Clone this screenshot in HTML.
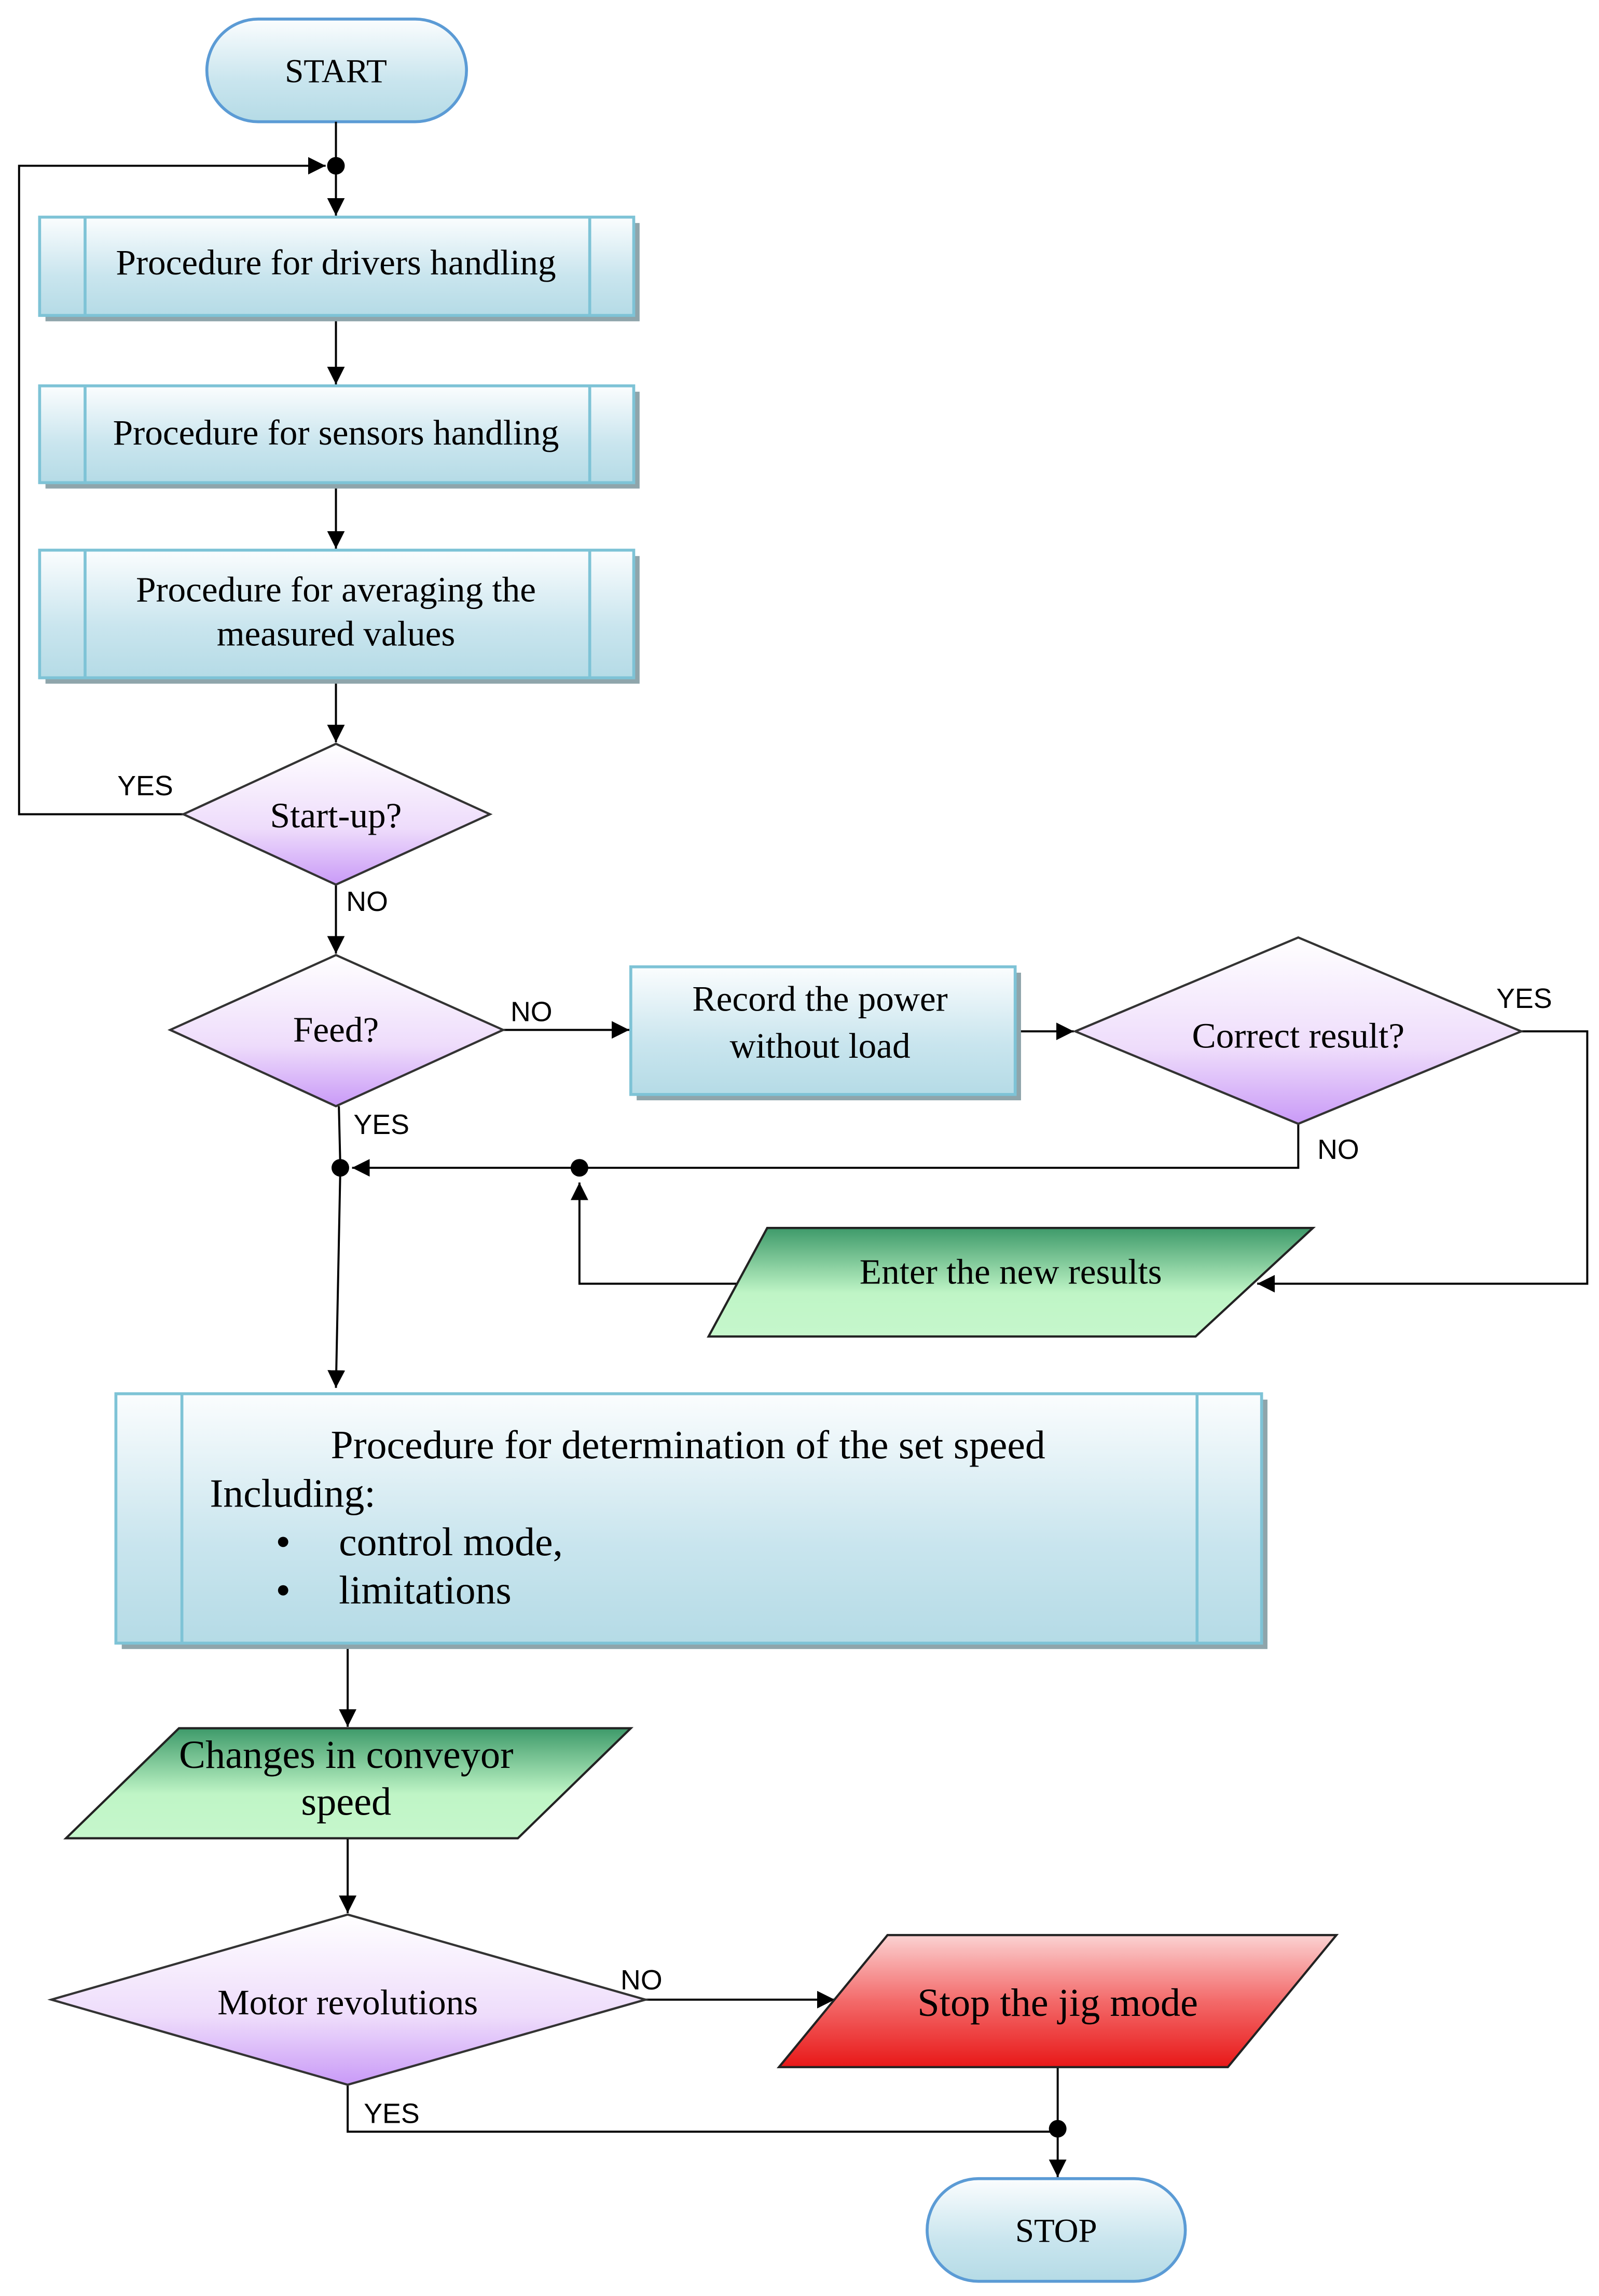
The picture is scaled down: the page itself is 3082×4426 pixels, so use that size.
<!DOCTYPE html>
<html><head><meta charset="utf-8"><style>html,body{margin:0;padding:0;background:#fff}svg{display:block}</style></head>
<body>
<svg width="3082" height="4426" viewBox="0 0 1090 1565" preserveAspectRatio="none" xmlns="http://www.w3.org/2000/svg">
<defs>
<linearGradient id="bl" x1="0" y1="0" x2="0" y2="1"><stop offset="0" stop-color="#fbfdfe"/><stop offset="0.6" stop-color="#c9e5ee"/><stop offset="1" stop-color="#b5dbe6"/></linearGradient>
<linearGradient id="pu" x1="0" y1="0" x2="0" y2="1"><stop offset="0" stop-color="#ffffff"/><stop offset="0.6" stop-color="#eedcfb"/><stop offset="1" stop-color="#c99af7"/></linearGradient>
<linearGradient id="gr" x1="0" y1="0" x2="0" y2="1"><stop offset="0" stop-color="#3e9a6a"/><stop offset="0.6" stop-color="#bff5c6"/><stop offset="1" stop-color="#c6f7cc"/></linearGradient>
<linearGradient id="rd" x1="0" y1="0" x2="0" y2="1"><stop offset="0" stop-color="#fbd2d2"/><stop offset="0.5" stop-color="#f36a6a"/><stop offset="1" stop-color="#e81818"/></linearGradient>
<marker id="a" viewBox="0 0 10 10" refX="10" refY="5" markerWidth="12" markerHeight="12" markerUnits="userSpaceOnUse" orient="auto"><path d="M0,0L10,5L0,10z" fill="#000"/></marker>
</defs>
<g font-family="Liberation Serif, serif" fill="#000">
<rect x="141" y="13" width="177" height="70" rx="35" fill="url(#bl)" stroke="#5b9bd5" stroke-width="2"/>
<text x="229" y="56" font-size="23" text-anchor="middle">START</text>
<g stroke="#000" stroke-width="1.4" fill="none">
<line x1="229" y1="83" x2="229" y2="147" marker-end="url(#a)"/>
<polyline points="125,555 13,555 13,113 222,113" marker-end="url(#a)"/>
<line x1="229" y1="216" x2="229" y2="262" marker-end="url(#a)"/>
<line x1="229" y1="330" x2="229" y2="374" marker-end="url(#a)"/>
<line x1="229" y1="463" x2="229" y2="506" marker-end="url(#a)"/>
<line x1="229" y1="603" x2="229" y2="650" marker-end="url(#a)"/>
<line x1="343" y1="702" x2="429" y2="702" marker-end="url(#a)"/>
<line x1="692" y1="703" x2="732" y2="703" marker-end="url(#a)"/>
<polyline points="885,766 885,796 240,796" marker-end="url(#a)"/>
<polyline points="1037,703 1082,703 1082,875 857,875" marker-end="url(#a)"/>
<polyline points="502,875 395,875 395,806" marker-end="url(#a)"/>
<polyline points="231,754 232,796 229,946" marker-end="url(#a)"/>
<line x1="237" y1="1120" x2="237" y2="1177" marker-end="url(#a)"/>
<line x1="237" y1="1253" x2="237" y2="1304" marker-end="url(#a)"/>
<line x1="440" y1="1363" x2="569" y2="1363" marker-end="url(#a)"/>
<polyline points="237,1421 237,1453 720,1453"/>
<line x1="721" y1="1409" x2="721" y2="1484" marker-end="url(#a)"/>
</g>
<circle cx="229" cy="113" r="6"/>
<circle cx="232" cy="796" r="6"/>
<circle cx="395" cy="796" r="6"/>
<circle cx="721" cy="1451" r="6"/>
<g stroke="#7ec3d6" stroke-width="2">
<rect x="31" y="152" width="405" height="67" fill="#8fa5ab" stroke="none"/>
<rect x="27" y="148" width="405" height="67" fill="url(#bl)"/>
<line x1="58" y1="148" x2="58" y2="215"/><line x1="402" y1="148" x2="402" y2="215"/>
<rect x="31" y="267" width="405" height="66" fill="#8fa5ab" stroke="none"/>
<rect x="27" y="263" width="405" height="66" fill="url(#bl)"/>
<line x1="58" y1="263" x2="58" y2="329"/><line x1="402" y1="263" x2="402" y2="329"/>
<rect x="31" y="379" width="405" height="87" fill="#8fa5ab" stroke="none"/>
<rect x="27" y="375" width="405" height="87" fill="url(#bl)"/>
<line x1="58" y1="375" x2="58" y2="462"/><line x1="402" y1="375" x2="402" y2="462"/>
<rect x="434" y="663" width="262" height="87" fill="#8fa5ab" stroke="none"/>
<rect x="430" y="659" width="262" height="87" fill="url(#bl)"/>
<rect x="83" y="954" width="781" height="170" fill="#8fa5ab" stroke="none"/>
<rect x="79" y="950" width="781" height="170" fill="url(#bl)"/>
<line x1="124" y1="950" x2="124" y2="1120"/><line x1="816" y1="950" x2="816" y2="1120"/>
</g>
<text x="229" y="187" font-size="24.5" text-anchor="middle">Procedure for drivers handling</text>
<text x="229" y="303" font-size="24.5" text-anchor="middle">Procedure for sensors handling</text>
<text x="229" y="410" font-size="24.5" text-anchor="middle">Procedure for averaging the</text>
<text x="229" y="440" font-size="24.5" text-anchor="middle">measured values</text>
<text x="559" y="689" font-size="24.5" text-anchor="middle">Record the power</text>
<text x="559" y="721" font-size="24.5" text-anchor="middle">without load</text>
<text x="469" y="994" font-size="27.5" text-anchor="middle">Procedure for determination of the set speed</text>
<text x="143" y="1027" font-size="27.5">Including:</text>
<circle cx="193" cy="1051" r="3.5"/><circle cx="193" cy="1084" r="3.5"/>
<text x="231" y="1060" font-size="27.5">control mode,</text>
<text x="231" y="1093" font-size="27.5">limitations</text>
<g stroke="#333" stroke-width="1.5" fill="url(#pu)">
<polygon points="229,507 334,555 229,603 125,555"/>
<polygon points="229,651 343,702 229,754 116,702"/>
<polygon points="885,639 1037,703 885,766 733,703"/>
<polygon points="237,1305 440,1363 237,1421 35,1363"/>
</g>
<text x="229" y="564" font-size="24.5" text-anchor="middle">Start-up?</text>
<text x="229" y="710" font-size="24.5" text-anchor="middle">Feed?</text>
<text x="885" y="714" font-size="24.5" text-anchor="middle">Correct result?</text>
<text x="237" y="1373" font-size="24.5" text-anchor="middle">Motor revolutions</text>
<polygon points="523,837 895,837 815,911 483,911" fill="url(#gr)" stroke="#222" stroke-width="1.5"/>
<text x="689" y="875" font-size="24.5" text-anchor="middle">Enter the new results</text>
<polygon points="122,1178 430,1178 353,1253 45,1253" fill="url(#gr)" stroke="#222" stroke-width="1.5"/>
<text x="236" y="1205" font-size="27" text-anchor="middle">Changes in conveyor</text>
<text x="236" y="1237" font-size="27" text-anchor="middle">speed</text>
<polygon points="605,1319 911,1319 837,1409 531,1409" fill="url(#rd)" stroke="#222" stroke-width="1.5"/>
<text x="721" y="1374" font-size="27" text-anchor="middle">Stop the jig mode</text>
<rect x="632" y="1485" width="176" height="70" rx="35" fill="url(#bl)" stroke="#5b9bd5" stroke-width="2"/>
<text x="720" y="1528" font-size="23" text-anchor="middle">STOP</text>
</g>
<g font-family="Liberation Sans, sans-serif" font-size="19" fill="#000">
<text x="80" y="542">YES</text>
<text x="236" y="621">NO</text>
<text x="348" y="696">NO</text>
<text x="241" y="773">YES</text>
<text x="1020" y="687">YES</text>
<text x="898" y="790">NO</text>
<text x="423" y="1356">NO</text>
<text x="248" y="1447">YES</text>
</g>
</svg>
</body></html>
